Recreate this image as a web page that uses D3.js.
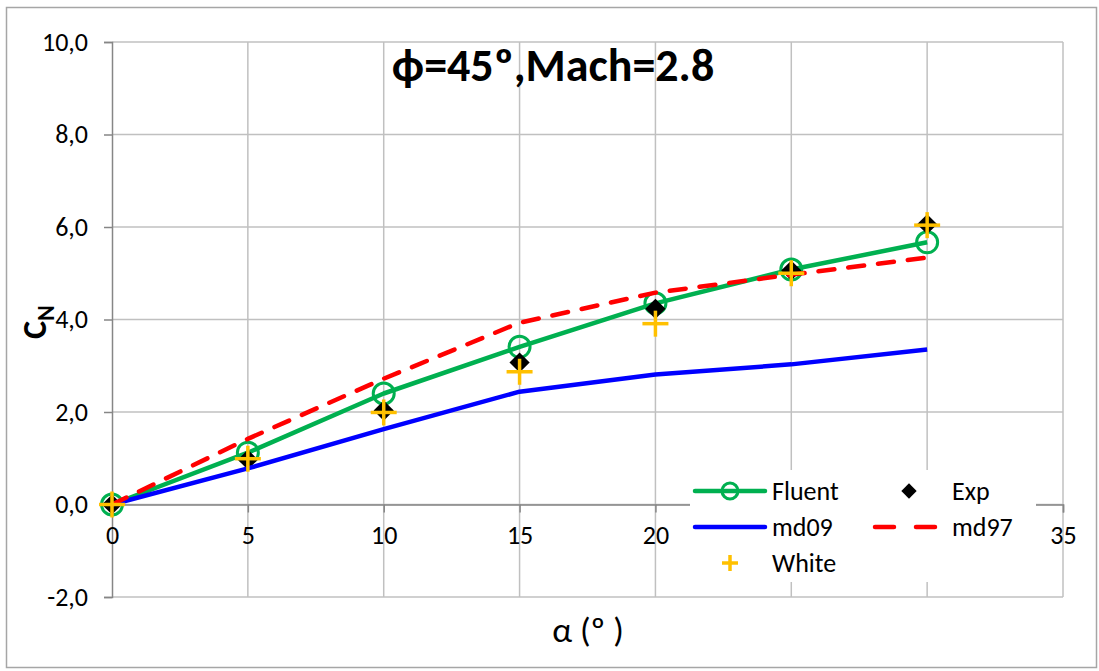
<!DOCTYPE html>
<html>
<head>
<meta charset="utf-8">
<script src="https://cdn.jsdelivr.net/npm/d3@7"></script>
<style>
  body { margin: 0; background: #fff; }
  text { font-family: Carlito, Lato, "Open Sans", sans-serif; }
</style>
</head>
<body>
<div id="chart"></div>
<script>
// data
var alpha  = [0, 5, 10, 15, 20, 25, 30];
var fluent = [0, 1.12, 2.40, 3.41, 4.35, 5.08, 5.67];
var exp    = [0, 0.97, 2.03, 3.07, 4.23, 5.06, 6.06];
var md09   = [0, 0.78, 1.63, 2.44, 2.81, 3.03, 3.35];
var md97   = [0, 1.42, 2.72, 3.93, 4.58, 4.97, 5.34];
var white  = [0, 0.99, 1.99, 2.87, 3.91, 5.00, 6.04];
var xTicks = [0, 5, 10, 15, 20, 25, 30, 35];
var yTicks = [-2, 0, 2, 4, 6, 8, 10];
// tick labels hidden behind the legend in the original
var hiddenX = [25, 30];

var W = 1099, H = 671;
var margin = {top: 42, right: 35, bottom: 74, left: 112},
    width = 1063 - margin.left,
    height = 597 - margin.top;

var svg = d3.select("#chart").append("svg")
    .attr("width", W).attr("height", H);

// outer chart border
svg.append("rect")
    .attr("x", 6.5).attr("y", 7.5)
    .attr("width", 1090).attr("height", 660)
    .attr("fill", "none").attr("stroke", "#a6a6a6").attr("stroke-width", 1.5);

var g = svg.append("g")
    .attr("transform", "translate(" + margin.left + "," + margin.top + ")");

var x = d3.scaleLinear().domain([0, 35]).range([0, width]);
var y = d3.scaleLinear().domain([-2, 10]).range([height, 0]);

// gridlines
g.append("g").selectAll("line").data(xTicks.slice(1)).enter().append("line")
    .attr("x1", d => x(d)).attr("x2", d => x(d))
    .attr("y1", 0).attr("y2", height)
    .attr("stroke", "#c0c0c0").attr("stroke-width", 1.5);
g.append("g").selectAll("line").data(yTicks).enter().append("line")
    .attr("x1", 0).attr("x2", width)
    .attr("y1", d => y(d)).attr("y2", d => y(d))
    .attr("stroke", "#c0c0c0").attr("stroke-width", 1.5);

// y axis
var yAxis = g.append("g")
    .call(d3.axisLeft(y).tickValues(yTicks).tickSize(8).tickPadding(16)
        .tickFormat(d => d3.format(".1f")(d).replace(".", ",").replace("\u2212", "-")));
// x axis crossing at y = 0
var xAxis = g.append("g")
    .attr("transform", "translate(0," + y(0) + ")")
    .call(d3.axisBottom(x).tickValues(xTicks).tickSize(8).tickPadding(13)
        .tickFormat(d => hiddenX.indexOf(d) >= 0 ? "" : d));

[yAxis, xAxis].forEach(function(a) {
  a.attr("font-size", 26);
  a.select(".domain").attr("stroke", "#868686").attr("stroke-width", 1.5);
  a.selectAll(".tick line").attr("stroke", "#868686").attr("stroke-width", 1.5);
  a.selectAll("text").attr("font-size", 26).attr("fill", "#000")
    .style("font-family", "Carlito, Lato, 'Open Sans', sans-serif");
});

var line = d3.line().x(d => x(d[0])).y(d => y(d[1]));
function pts(vals) { return alpha.map((a, i) => [a, vals[i]]); }

var plot = g.append("g");

// Fluent
plot.append("path").datum(pts(fluent)).attr("d", line)
    .attr("fill", "none").attr("stroke", "#00b050").attr("stroke-width", 4.5)
    .attr("stroke-linejoin", "round");
plot.append("g").selectAll("circle").data(pts(fluent)).enter().append("circle")
    .attr("cx", d => x(d[0])).attr("cy", d => y(d[1])).attr("r", 10.5)
    .attr("fill", "none").attr("stroke", "#00b050").attr("stroke-width", 3);

// Exp
var diamond = d3.symbol().type(d3.symbolDiamond2).size(260);
plot.append("g").selectAll("path").data(pts(exp)).enter().append("path")
    .attr("d", diamond)
    .attr("transform", d => "translate(" + x(d[0]) + "," + y(d[1]) + ")")
    .attr("fill", "#000");

// md09
plot.append("path").datum(pts(md09)).attr("d", line)
    .attr("fill", "none").attr("stroke", "#0000ff").attr("stroke-width", 4.5)
    .attr("stroke-linejoin", "round");

// md97
plot.append("path").datum(pts(md97)).attr("d", line)
    .attr("fill", "none").attr("stroke", "#ff0000").attr("stroke-width", 4.5)
    .attr("stroke-dasharray", "16,14").attr("stroke-linecap", "round");

// White
function plus(sel, cx, cy, r) {
  sel.append("line").attr("x1", cx - r).attr("x2", cx + r).attr("y1", cy).attr("y2", cy)
    .attr("stroke", "#ffc000").attr("stroke-width", 3.5);
  sel.append("line").attr("x1", cx).attr("x2", cx).attr("y1", cy - r).attr("y2", cy + r)
    .attr("stroke", "#ffc000").attr("stroke-width", 3.5);
}
pts(white).forEach(d => plus(plot, x(d[0]), y(d[1]), 13));

// title
svg.append("text")
    .attr("x", 553).attr("y", 81).attr("text-anchor", "middle")
    .attr("font-size", 46).attr("font-weight", "bold")
    .text("ϕ=45º,Mach=2.8");

// axis titles
svg.append("text")
    .attr("x", 588).attr("y", 642).attr("text-anchor", "middle")
    .attr("font-size", 35)
    .text("α (º )");

var yl = svg.append("text")
    .attr("transform", "translate(46,322) rotate(-90)")
    .attr("text-anchor", "middle")
    .attr("font-size", 34).attr("font-weight", "bold");
yl.append("tspan").text("C");
yl.append("tspan").attr("dy", 8).attr("font-size", 24).text("N");

// legend
var leg = svg.append("g");
leg.append("rect").attr("x", 690).attr("y", 470).attr("width", 346).attr("height", 112)
    .attr("fill", "#fff");
var rows = [491, 527, 563];

leg.append("line").attr("x1", 695).attr("x2", 765).attr("y1", rows[0]).attr("y2", rows[0])
    .attr("stroke", "#00b050").attr("stroke-width", 4.5).attr("stroke-linecap", "round");
leg.append("circle").attr("cx", 730).attr("cy", rows[0]).attr("r", 8)
    .attr("fill", "none").attr("stroke", "#00b050").attr("stroke-width", 3);

leg.append("path").attr("d", d3.symbol().type(d3.symbolDiamond2).size(150))
    .attr("transform", "translate(909," + rows[0] + ")").attr("fill", "#000");

leg.append("line").attr("x1", 695).attr("x2", 765).attr("y1", rows[1]).attr("y2", rows[1])
    .attr("stroke", "#0000ff").attr("stroke-width", 4.5).attr("stroke-linecap", "round");

leg.append("line").attr("x1", 875).attr("x2", 935).attr("y1", rows[1]).attr("y2", rows[1])
    .attr("stroke", "#ff0000").attr("stroke-width", 4.5).attr("stroke-linecap", "round")
    .attr("stroke-dasharray", "19,22");

plus(leg, 730, rows[2], 8);

var labels = [["Fluent", 772, rows[0]], ["Exp", 952, rows[0]],
              ["md09", 772, rows[1]], ["md97", 952, rows[1]],
              ["White", 772, rows[2]]];
leg.selectAll("text").data(labels).enter().append("text")
    .attr("x", d => d[1]).attr("y", d => d[2]).attr("dy", "0.35em")
    .attr("font-size", 26).text(d => d[0]);
</script>
</body>
</html>
